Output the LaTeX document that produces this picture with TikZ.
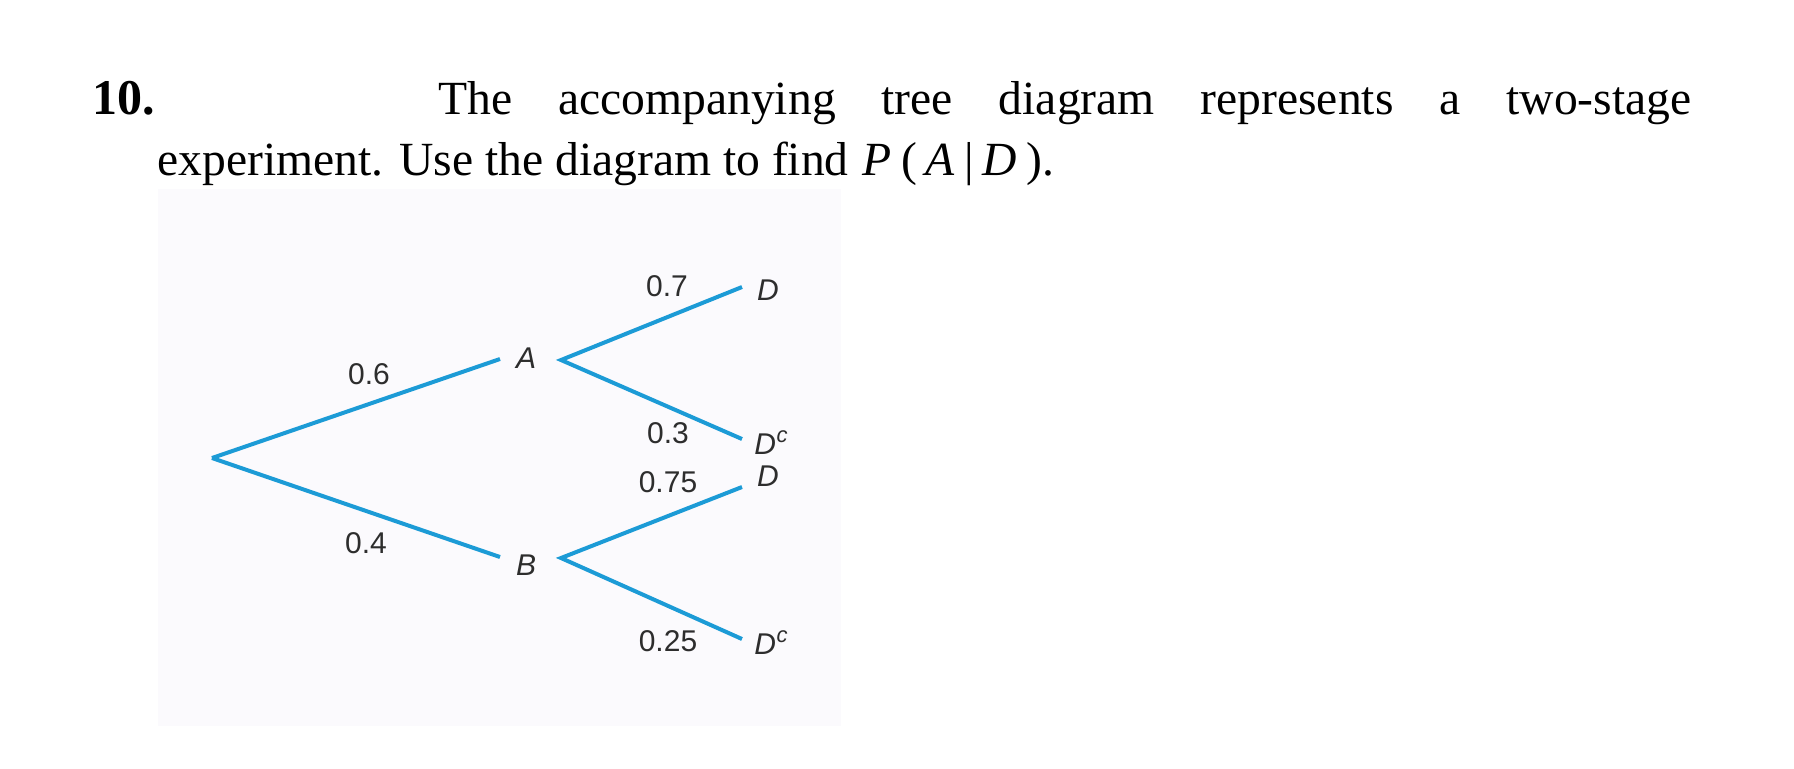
\documentclass[tikz,border=0pt]{standalone}
\usepackage{fontspec}
\setmainfont{Liberation Serif}
\newfontfamily\labfont{Liberation Sans}
\definecolor{branch}{RGB}{28,155,214}
\definecolor{labgray}{RGB}{45,45,45}
\definecolor{panel}{RGB}{251,250,253}
\newcommand{\compl}{D\raisebox{0.75ex}{\kern0.02em\fontsize{11}{12}\selectfont c}}
\begin{document}
\begin{tikzpicture}[x=0.5pt,y=-0.5pt,
  branchline/.style={draw=branch,line width=2pt},
  lab/.style={font=\labfont\fontsize{15}{17}\selectfont,text=labgray,inner sep=0pt},
  evt/.style={font=\labfont\itshape\fontsize{15}{17}\selectfont,text=labgray,inner sep=0pt},
  body/.style={font=\fontsize{23.8}{28}\selectfont,inner sep=0pt,anchor=base west}]
\useasboundingbox[fill=white] (0,0) rectangle (1794,768);
\fill[panel] (158,189) rectangle (841,726);
% question text
\node[body,font=\bfseries\fontsize{25}{30}\selectfont] (num) at (92,114) {10.};
\node[body] (l1) at (438,114) {\makebox[626.5pt][s]{The accompanying tree diagram represents a two-stage}};
\node[body] (l2) at (157,175) {experiment. Use the diagram to find\kern1pt\ \textit{P}\kern5pt(\kern4pt\textit{A}\kern5pt|\kern4pt\textit{D}\kern5pt).};
% tree points
\coordinate (root) at (212,458);
\coordinate (Ain) at (500,359);
\coordinate (Bin) at (500,557);
\coordinate (Aout) at (561,360);
\coordinate (Bout) at (561,558);
\coordinate (D1in) at (742,287);
\coordinate (C1in) at (742,439);
\coordinate (D2in) at (742,487);
\coordinate (C2in) at (742,639);
% event labels
\node[evt] (A) at (526,358) {A};
\node[evt] (B) at (526,565) {B};
\node[evt] (D1) at (768,290) {D};
\node[evt] (C1) at (771,443) {\compl};
\node[evt] (D2) at (768,476) {D};
\node[evt] (C2) at (771,643) {\compl};
% branches
\draw[branchline] (root) -- (Ain);
\draw[branchline] (root) -- (Bin);
\draw[branchline] (D1in) -- (Aout) -- (C1in);
\draw[branchline] (D2in) -- (Bout) -- (C2in);
% probabilities
\node[lab] (p6) at (369,374) {0.6};
\node[lab] (p4) at (366,543) {0.4};
\node[lab] (p7) at (667,286) {0.7};
\node[lab] (p3) at (668,433) {0.3};
\node[lab] (p75) at (668,482) {0.75};
\node[lab] (p25) at (668,641) {0.25};
\end{tikzpicture}
\end{document}
